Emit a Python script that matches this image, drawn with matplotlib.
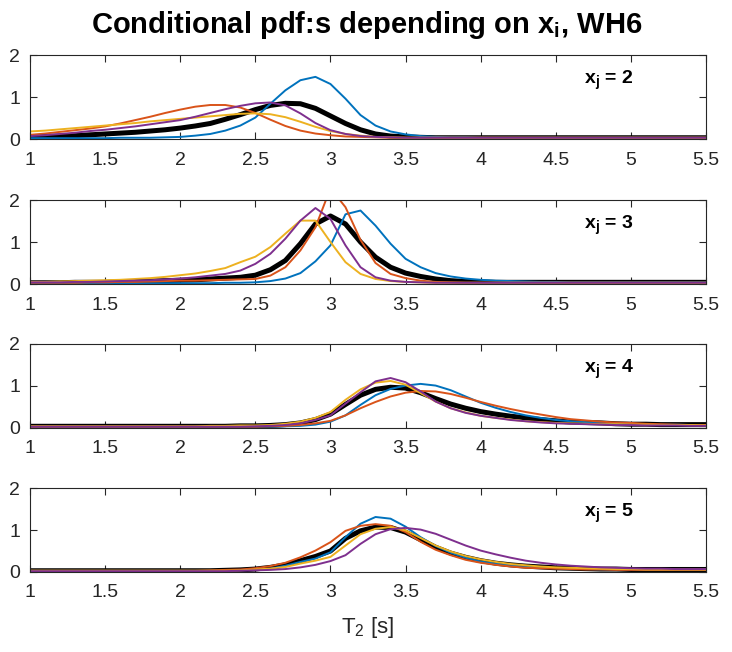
import matplotlib
matplotlib.use('Agg')
import matplotlib.pyplot as plt

plt.rcParams['font.family'] = ['Liberation Sans', 'DejaVu Sans']
plt.rcParams['mathtext.fontset'] = 'custom'
plt.rcParams['mathtext.rm'] = 'Liberation Sans'
plt.rcParams['mathtext.bf'] = 'Liberation Sans:bold'

# T2 grid [s]
t2 = [1.0, 1.1, 1.2, 1.3, 1.4, 1.5, 1.6, 1.7, 1.8, 1.9,
      2.0, 2.1, 2.2, 2.3, 2.4, 2.5, 2.6, 2.7, 2.8, 2.9,
      3.0, 3.1, 3.2, 3.3, 3.4, 3.5, 3.6, 3.7, 3.8, 3.9,
      4.0, 4.1, 4.2, 4.3, 4.4, 4.5, 4.6, 4.7, 4.8, 4.9,
      5.0, 5.1, 5.2, 5.3, 5.4, 5.5]

xj_values = [2, 3, 4, 5]
xtick_vals = [1, 1.5, 2, 2.5, 3, 3.5, 4, 4.5, 5, 5.5]
xtick_labels = ['1', '1.5', '2', '2.5', '3', '3.5', '4', '4.5', '5', '5.5']

# ---- x_j = 2
blue_2 = [0.02, 0.02, 0.02, 0.02, 0.02, 0.02, 0.03, 0.03, 0.03, 0.04,
          0.05, 0.08, 0.12, 0.20, 0.32, 0.51, 0.84, 1.16, 1.40, 1.48,
          1.31, 0.96, 0.57, 0.32, 0.18, 0.11, 0.07, 0.05, 0.04, 0.04,
          0.03, 0.03, 0.03, 0.03, 0.03, 0.03, 0.03, 0.03, 0.03, 0.03,
          0.03, 0.03, 0.03, 0.03, 0.03, 0.03]
orange_2 = [0.10, 0.13, 0.17, 0.21, 0.25, 0.30, 0.37, 0.45, 0.53, 0.62,
            0.70, 0.77, 0.81, 0.81, 0.75, 0.62, 0.46, 0.31, 0.20, 0.13,
            0.09, 0.06, 0.05, 0.04, 0.03, 0.03, 0.03, 0.03, 0.03, 0.03,
            0.03, 0.03, 0.03, 0.03, 0.03, 0.03, 0.03, 0.03, 0.03, 0.03,
            0.03, 0.03, 0.03, 0.03, 0.03, 0.03]
yellow_2 = [0.18, 0.20, 0.23, 0.26, 0.29, 0.32, 0.35, 0.38, 0.42, 0.45,
            0.48, 0.51, 0.54, 0.57, 0.60, 0.61, 0.59, 0.52, 0.41, 0.29,
            0.19, 0.12, 0.08, 0.05, 0.04, 0.03, 0.03, 0.03, 0.03, 0.03,
            0.03, 0.03, 0.03, 0.03, 0.03, 0.03, 0.03, 0.03, 0.03, 0.03,
            0.03, 0.03, 0.03, 0.03, 0.03, 0.03]
purple_2 = [0.07, 0.09, 0.12, 0.15, 0.19, 0.22, 0.26, 0.30, 0.35, 0.40,
            0.45, 0.53, 0.62, 0.71, 0.79, 0.85, 0.87, 0.80, 0.61, 0.38,
            0.21, 0.12, 0.07, 0.05, 0.04, 0.03, 0.03, 0.03, 0.03, 0.03,
            0.03, 0.03, 0.03, 0.03, 0.03, 0.03, 0.03, 0.03, 0.03, 0.03,
            0.03, 0.03, 0.03, 0.03, 0.03, 0.03]
black_2 = [0.05, 0.06, 0.07, 0.08, 0.10, 0.12, 0.14, 0.16, 0.19, 0.22,
           0.26, 0.31, 0.37, 0.47, 0.58, 0.70, 0.80, 0.85, 0.84, 0.73,
           0.55, 0.37, 0.22, 0.12, 0.07, 0.05, 0.04, 0.03, 0.03, 0.03,
           0.03, 0.03, 0.03, 0.03, 0.03, 0.03, 0.03, 0.03, 0.03, 0.03,
           0.03, 0.03, 0.03, 0.03, 0.03, 0.03]

# ---- x_j = 3
blue_3 = [0.02, 0.02, 0.02, 0.02, 0.02, 0.02, 0.02, 0.02, 0.02, 0.02,
          0.02, 0.02, 0.02, 0.03, 0.03, 0.04, 0.07, 0.13, 0.26, 0.54,
          0.92, 1.66, 1.75, 1.39, 0.96, 0.60, 0.40, 0.26, 0.18, 0.13,
          0.10, 0.08, 0.07, 0.06, 0.05, 0.05, 0.04, 0.04, 0.04, 0.04,
          0.04, 0.04, 0.04, 0.04, 0.04, 0.04]
orange_3 = [0.03, 0.03, 0.03, 0.03, 0.04, 0.04, 0.05, 0.05, 0.06, 0.07,
            0.08, 0.08, 0.09, 0.10, 0.11, 0.12, 0.20, 0.40, 0.80, 1.35,
            2.28, 1.83, 1.05, 0.50, 0.24, 0.14, 0.08, 0.05, 0.04, 0.03,
            0.03, 0.03, 0.03, 0.03, 0.03, 0.03, 0.03, 0.03, 0.03, 0.03,
            0.03, 0.03, 0.03, 0.03, 0.03, 0.03]
yellow_3 = [0.05, 0.05, 0.06, 0.07, 0.08, 0.09, 0.10, 0.12, 0.14, 0.17,
            0.21, 0.25, 0.31, 0.38, 0.52, 0.65, 0.88, 1.20, 1.51, 1.51,
            1.00, 0.52, 0.24, 0.12, 0.07, 0.05, 0.04, 0.03, 0.03, 0.03,
            0.03, 0.03, 0.03, 0.03, 0.03, 0.03, 0.03, 0.03, 0.03, 0.03,
            0.03, 0.03, 0.03, 0.03, 0.03, 0.03]
purple_3 = [0.04, 0.04, 0.04, 0.05, 0.05, 0.06, 0.07, 0.08, 0.09, 0.11,
            0.13, 0.16, 0.20, 0.24, 0.32, 0.48, 0.72, 1.08, 1.51, 1.81,
            1.55, 0.92, 0.40, 0.16, 0.08, 0.05, 0.04, 0.03, 0.03, 0.03,
            0.03, 0.03, 0.03, 0.03, 0.03, 0.03, 0.03, 0.03, 0.03, 0.03,
            0.03, 0.03, 0.03, 0.03, 0.03, 0.03]
black_3 = [0.03, 0.03, 0.03, 0.04, 0.04, 0.04, 0.05, 0.06, 0.07, 0.08,
           0.09, 0.10, 0.12, 0.14, 0.16, 0.21, 0.34, 0.56, 0.96, 1.43,
           1.62, 1.43, 1.00, 0.64, 0.40, 0.26, 0.18, 0.12, 0.08, 0.06,
           0.05, 0.04, 0.04, 0.04, 0.04, 0.04, 0.04, 0.04, 0.04, 0.04,
           0.04, 0.04, 0.04, 0.04, 0.04, 0.04]

# ---- x_j = 4
blue_4 = [0.03, 0.03, 0.03, 0.03, 0.03, 0.03, 0.03, 0.03, 0.03, 0.03,
          0.03, 0.03, 0.03, 0.03, 0.03, 0.03, 0.03, 0.04, 0.05, 0.08,
          0.15, 0.30, 0.55, 0.78, 0.93, 1.01, 1.05, 1.01, 0.90, 0.75,
          0.60, 0.48, 0.38, 0.30, 0.24, 0.19, 0.16, 0.14, 0.12, 0.10,
          0.09, 0.09, 0.08, 0.08, 0.07, 0.07]
orange_4 = [0.03, 0.03, 0.03, 0.03, 0.03, 0.03, 0.03, 0.03, 0.03, 0.03,
            0.03, 0.03, 0.03, 0.03, 0.03, 0.03, 0.04, 0.05, 0.07, 0.11,
            0.17, 0.30, 0.47, 0.62, 0.75, 0.84, 0.88, 0.87, 0.81, 0.72,
            0.62, 0.53, 0.45, 0.38, 0.32, 0.26, 0.21, 0.18, 0.15, 0.13,
            0.12, 0.10, 0.09, 0.08, 0.07, 0.07]
yellow_4 = [0.04, 0.04, 0.04, 0.04, 0.04, 0.04, 0.04, 0.04, 0.04, 0.04,
            0.04, 0.04, 0.05, 0.05, 0.06, 0.06, 0.07, 0.10, 0.15, 0.24,
            0.38, 0.67, 0.92, 1.08, 1.12, 1.03, 0.83, 0.63, 0.47, 0.37,
            0.29, 0.24, 0.20, 0.16, 0.14, 0.12, 0.11, 0.10, 0.09, 0.09,
            0.08, 0.08, 0.07, 0.07, 0.07, 0.06]
purple_4 = [0.03, 0.03, 0.03, 0.03, 0.03, 0.03, 0.03, 0.03, 0.03, 0.03,
            0.03, 0.03, 0.03, 0.03, 0.03, 0.04, 0.05, 0.07, 0.11, 0.19,
            0.30, 0.58, 0.85, 1.11, 1.19, 1.09, 0.87, 0.63, 0.47, 0.36,
            0.29, 0.24, 0.19, 0.16, 0.13, 0.11, 0.10, 0.09, 0.08, 0.07,
            0.07, 0.06, 0.06, 0.06, 0.05, 0.05]
black_4 = [0.04, 0.04, 0.04, 0.04, 0.04, 0.04, 0.04, 0.04, 0.04, 0.04,
           0.04, 0.04, 0.04, 0.04, 0.05, 0.05, 0.06, 0.08, 0.12, 0.20,
           0.33, 0.56, 0.78, 0.92, 0.97, 0.95, 0.84, 0.70, 0.57, 0.47,
           0.39, 0.33, 0.28, 0.24, 0.20, 0.17, 0.14, 0.13, 0.12, 0.10,
           0.09, 0.09, 0.08, 0.08, 0.08, 0.08]

# ---- x_j = 5
blue_5 = [0.03, 0.03, 0.03, 0.03, 0.03, 0.03, 0.03, 0.03, 0.03, 0.03,
          0.03, 0.03, 0.03, 0.03, 0.04, 0.05, 0.08, 0.15, 0.24, 0.32,
          0.47, 0.83, 1.15, 1.31, 1.27, 1.08, 0.83, 0.62, 0.46, 0.34,
          0.25, 0.20, 0.16, 0.13, 0.10, 0.09, 0.08, 0.07, 0.06, 0.06,
          0.06, 0.05, 0.05, 0.05, 0.05, 0.05]
orange_5 = [0.03, 0.03, 0.03, 0.03, 0.03, 0.03, 0.03, 0.03, 0.03, 0.03,
            0.03, 0.03, 0.04, 0.05, 0.06, 0.09, 0.14, 0.22, 0.35, 0.51,
            0.71, 0.98, 1.10, 1.14, 1.10, 0.95, 0.72, 0.53, 0.40, 0.29,
            0.22, 0.17, 0.13, 0.10, 0.09, 0.08, 0.07, 0.06, 0.06, 0.05,
            0.05, 0.05, 0.05, 0.05, 0.05, 0.05]
yellow_5 = [0.03, 0.03, 0.03, 0.03, 0.03, 0.03, 0.03, 0.03, 0.03, 0.03,
            0.03, 0.03, 0.03, 0.03, 0.04, 0.06, 0.08, 0.12, 0.20, 0.27,
            0.36, 0.63, 0.90, 1.03, 1.07, 0.99, 0.81, 0.63, 0.49, 0.38,
            0.30, 0.24, 0.19, 0.16, 0.13, 0.11, 0.10, 0.09, 0.08, 0.07,
            0.07, 0.06, 0.06, 0.06, 0.06, 0.06]
purple_5 = [0.02, 0.02, 0.02, 0.02, 0.02, 0.02, 0.02, 0.02, 0.02, 0.02,
            0.02, 0.02, 0.02, 0.02, 0.03, 0.04, 0.05, 0.07, 0.11, 0.17,
            0.26, 0.40, 0.67, 0.90, 1.02, 1.05, 1.01, 0.91, 0.77, 0.63,
            0.51, 0.42, 0.34, 0.27, 0.22, 0.18, 0.15, 0.13, 0.11, 0.10,
            0.09, 0.08, 0.08, 0.07, 0.07, 0.07]
black_5 = [0.03, 0.03, 0.03, 0.03, 0.03, 0.03, 0.03, 0.03, 0.03, 0.03,
           0.03, 0.03, 0.03, 0.04, 0.05, 0.07, 0.11, 0.17, 0.27, 0.37,
           0.50, 0.80, 0.98, 1.07, 1.06, 0.95, 0.77, 0.59, 0.45, 0.35,
           0.27, 0.21, 0.17, 0.14, 0.12, 0.10, 0.09, 0.08, 0.07, 0.07,
           0.06, 0.06, 0.06, 0.06, 0.06, 0.06]

panels = [
    (black_2, [blue_2, orange_2, yellow_2, purple_2]),
    (black_3, [blue_3, orange_3, yellow_3, purple_3]),
    (black_4, [blue_4, orange_4, yellow_4, purple_4]),
    (black_5, [blue_5, orange_5, yellow_5, purple_5]),
]

colors = ['#0072BD', '#D95319', '#EDB120', '#7E2F8E']
axis_gray = '#262626'

fig = plt.figure(figsize=(7.32, 6.52), dpi=100)

bottoms = [0.7868, 0.5644, 0.3436, 0.1227]
for k, (black, curves) in enumerate(panels):
    ax = fig.add_axes([0.041, bottoms[k], 0.9235, 0.1288])
    ax.plot(t2, black, color='k', lw=3.6)
    for c, y in zip(colors, curves):
        ax.plot(t2, y, color=c, lw=1.4)
    ax.set_xlim(1, 5.5)
    ax.set_ylim(0, 2)
    ax.set_xticks(xtick_vals)
    ax.set_xticklabels(xtick_labels)
    ax.set_yticks([0, 1, 2])
    ax.set_yticklabels(['0', '1', '2'])
    ax.tick_params(direction='in', length=5, width=0.8, top=True, right=True,
                   labelsize=14, colors=axis_gray, labelcolor=axis_gray)
    ax.tick_params(axis='x', pad=9)
    ax.tick_params(axis='y', pad=7)
    for s in ax.spines.values():
        s.set_color(axis_gray)
        s.set_linewidth(0.8)
    ax.text(4.69, 1.32, 'x$_\\mathbf{j}$ = %d' % xj_values[k], fontsize=14,
            fontweight='bold', va='baseline', ha='left', color='k')

fig.text(0.501, 0.949, 'Conditional pdf:s depending on x$_\\mathbf{i}$, WH6',
         ha='center', va='baseline', fontsize=21, fontweight='bold')
fig.text(368 / 732, 1 - 633 / 652, 'T$_\\mathregular{2}$ [s]', ha='center',
         va='baseline', fontsize=16, color=axis_gray)

fig.savefig('out.png', dpi=100)
